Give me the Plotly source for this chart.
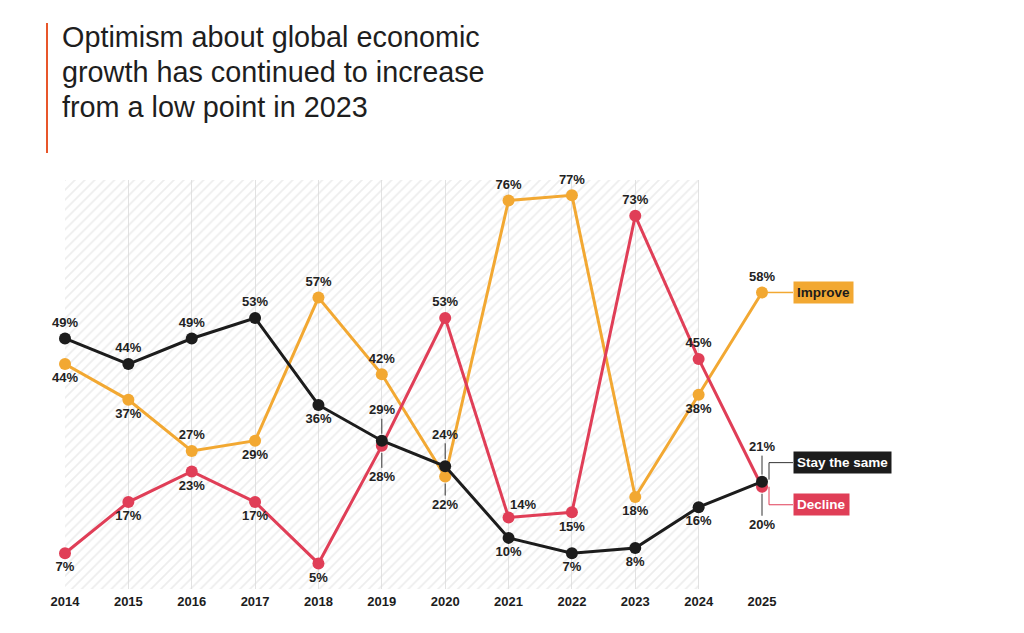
import plotly.graph_objects as go

# ---------------- data ----------------
years = [2014, 2015, 2016, 2017, 2018, 2019, 2020, 2021, 2022, 2023, 2024, 2025]
improve = [44, 37, 27, 29, 57, 42, 22, 76, 77, 18, 38, 58]
stay_same = [49, 44, 49, 53, 36, 29, 24, 10, 7, 8, 16, 21]
decline = [7, 17, 23, 17, 5, 28, 53, 14, 15, 73, 45, 20]
series_names = ["Improve", "Stay the same", "Decline"]
title_lines = ["Optimism about global economic",
               "growth has continued to increase",
               "from a low point in 2023"]

# ---------------- styles ----------------
C_IMP = "#F2A832"
C_STAY = "#1C1C1C"
C_DEC = "#E03E57"
FONT = "Liberation Sans"
LABEL_COLOR = "#222222"

OFF = 8  # page body offset
W, H = 1024 - OFF, 633 - OFF
ML, MR, MT, MB = 65 - OFF, 262, 180 - OFF, 44
PW = W - ML - MR
PH = H - MT - MB
XR = [years[0], years[-1]]
YR = [0, 80]

def xp(pix):  # window pixel -> paper x
    return (pix - OFF - ML) / PW

def yp(pix):  # window pixel -> paper y
    return (H - MB - (pix - OFF)) / PH

def val_paper_y(v):
    return (v - YR[0]) / (YR[1] - YR[0])

def year_paper_x(yr):
    return (yr - XR[0]) / (XR[1] - XR[0])

# label placement per point ('a' = annotation with leader line, 't' = nudged up-right)
pos_imp = ["bottom center", "bottom center", "top center", "bottom center", "top center", "top center",
           "a", "top center", "top center", "bottom center", "bottom center", "top center"]
pos_stay = ["top center", "top center", "top center", "top center", "bottom center", "a",
            "a", "bottom center", "bottom center", "bottom center", "bottom center", "a"]
pos_dec = ["bottom center", "bottom center", "bottom center", "bottom center", "bottom center", "a",
           "top center", "t", "bottom center", "top center", "top center", "a"]
# leader-line label offsets (pixels) for 'a' points
lead_imp = {6: 28}
lead_stay = {5: -31, 6: -32, 11: -35}
lead_dec = {5: 31, 11: 38}

fig = go.Figure()

# hatched background region
fig.add_trace(go.Scatter(
    x=[years[0], years[-2], years[-2], years[0], years[0]],
    y=[YR[0], YR[0], YR[1], YR[1], YR[0]],
    fill="toself", mode="none", fillcolor="rgba(0,0,0,0)",
    fillpattern=dict(shape="/", fgcolor="#DCDCDC", bgcolor="rgba(0,0,0,0)", size=7, solidity=0.25),
    hoverinfo="skip", showlegend=False))

annotations = []
LBL_FONT = dict(family=FONT, size=13, color=LABEL_COLOR, weight="bold")

def add_series(vals, color, positions, leads, name):
    texts = [("" if p in ("a", "t") else f"{v}%") for v, p in zip(vals, positions)]
    tpos = [("top center" if p in ("a", "t") else p) for p in positions]
    fig.add_trace(go.Scatter(
        x=years, y=vals, mode="lines+markers+text", name=name,
        line=dict(color=color, width=3),
        marker=dict(color=color, size=12),
        text=texts, textposition=tpos,
        textfont=LBL_FONT,
        cliponaxis=False, showlegend=False))
    for i, ay in leads.items():
        annotations.append(dict(
            x=years[i], y=vals[i], xref="x", yref="y",
            text=f"{vals[i]}%", showarrow=True, arrowhead=0, arrowwidth=1,
            arrowcolor="#333333", ax=0, ay=ay, standoff=7, font=LBL_FONT))
    for i, p in enumerate(positions):
        if p == "t":
            annotations.append(dict(
                x=years[i], y=vals[i], xref="x", yref="y", text=f"{vals[i]}%",
                showarrow=False, xshift=14, yshift=13, font=LBL_FONT))

add_series(improve, C_IMP, pos_imp, lead_imp, series_names[0])
add_series(decline, C_DEC, pos_dec, lead_dec, series_names[2])
add_series(stay_same, C_STAY, pos_stay, lead_stay, series_names[1])

# end-of-line labels (boxes)
box_x = xp(793)
end_x = year_paper_x(years[-1])
kink_x = xp(769)
stay_shift, dec_shift = 19, -18
boxes = [
    (series_names[0], improve[-1], 0, C_IMP, "#1C1C1C"),
    (series_names[1], stay_same[-1], stay_shift, C_STAY, "white"),
    (series_names[2], decline[-1], dec_shift, C_DEC, "white"),
]
for name, v, shift, bg, fc in boxes:
    annotations.append(dict(
        x=box_x, y=val_paper_y(v) + shift / PH, xref="paper", yref="paper",
        xanchor="left", yanchor="middle", text=name, showarrow=False,
        bgcolor=bg, borderpad=3,
        font=dict(family=FONT, size=13.5, color=fc, weight="bold")))

shapes = []
shapes.append(dict(type="line", xref="paper", yref="paper",
                   x0=end_x, x1=box_x, y0=val_paper_y(improve[-1]), y1=val_paper_y(improve[-1]),
                   line=dict(color=C_IMP, width=1.5), layer="below"))
ys0 = val_paper_y(stay_same[-1]) + 2 / PH
ys1 = val_paper_y(stay_same[-1]) + stay_shift / PH
shapes.append(dict(type="path", xref="paper", yref="paper",
                   path=f"M {kink_x} {ys0} L {kink_x} {ys1} L {box_x} {ys1}",
                   line=dict(color="#333333", width=1)))
yd0 = val_paper_y(decline[-1])
yd1 = val_paper_y(decline[-1]) + dec_shift / PH
shapes.append(dict(type="path", xref="paper", yref="paper",
                   path=f"M {kink_x} {yd0} L {kink_x} {yd1} L {box_x} {yd1}",
                   line=dict(color=C_DEC, width=1)))
shapes.append(dict(type="line", xref="paper", yref="paper",
                   x0=xp(47), x1=xp(47), y0=yp(23), y1=yp(153),
                   line=dict(color="#E8562A", width=2)))

# title, one annotation per line for tighter line pitch
for i, line in enumerate(title_lines):
    annotations.append(dict(
        x=xp(60), y=yp(37 + 35 * i), xref="paper", yref="paper", xanchor="left", yanchor="middle",
        align="left", showarrow=False, text=line,
        font=dict(family=FONT, size=28.8, color="#1E1E1E")))

fig.update_layout(
    width=W, height=H,
    margin=dict(l=ML, r=MR, t=MT, b=MB),
    paper_bgcolor="white", plot_bgcolor="white",
    xaxis=dict(range=XR, tickmode="array", tickvals=years, ticktext=[str(y) for y in years],
               showgrid=True, gridcolor="#E2E2E2", gridwidth=1, zeroline=False, showline=False,
               ticks="", ticklabelstandoff=3,
               tickfont=dict(family=FONT, size=13, color="#1C1C1C", weight="bold")),
    yaxis=dict(range=YR, visible=False, showgrid=False, zeroline=False),
    annotations=annotations, shapes=shapes,
    showlegend=False,
)

fig.write_html("out.html")
